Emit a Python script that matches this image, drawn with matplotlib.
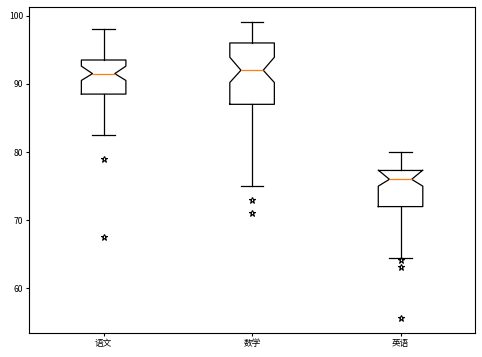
import matplotlib
matplotlib.use("Agg")
import matplotlib.pyplot as plt

plt.rcParams['font.family'] = ['Noto Sans CJK SC', 'DejaVu Sans']
plt.rcParams['axes.unicode_minus'] = False

# 各科成绩的箱线统计量
subjects = ['语文', '数学', '英语']
medians = [91.5, 92.0, 76.0]
q1 = [88.5, 87.0, 72.0]
q3 = [93.5, 96.0, 77.3]
whislo = [82.5, 75.0, 64.5]
whishi = [98.0, 99.0, 80.0]
cilo = [90.5, 90.2, 75.0]
cihi = [92.6, 93.9, 77.35]
fliers = [[79.0, 67.5], [73.0, 71.0], [64.1, 63.1, 55.6]]

stats = []
for i, name in enumerate(subjects):
    stats.append({
        'label': name,
        'med': medians[i],
        'q1': q1[i],
        'q3': q3[i],
        'whislo': whislo[i],
        'whishi': whishi[i],
        'cilo': cilo[i],
        'cihi': cihi[i],
        'fliers': fliers[i],
    })

fig, ax = plt.subplots(figsize=(4.82, 3.57), dpi=100)
fig.subplots_adjust(left=0.061, right=0.985, top=0.979, bottom=0.067)

ax.bxp(stats, shownotches=True,
       flierprops=dict(marker='*', markerfacecolor='none', markeredgecolor='black',
                       markersize=5, markeredgewidth=0.8),
       boxprops=dict(linewidth=0.9),
       whiskerprops=dict(linewidth=0.9),
       capprops=dict(linewidth=0.9),
       medianprops=dict(linewidth=0.9, color='#ff7f0e'))

ax.set_ylim(53.45, 101.2)
ax.set_yticks([60, 70, 80, 90, 100])
ax.tick_params(labelsize=6.2, length=2.5, width=0.8, pad=2)
for s in ax.spines.values():
    s.set_linewidth(0.8)

fig.savefig('out.png', dpi=100)
